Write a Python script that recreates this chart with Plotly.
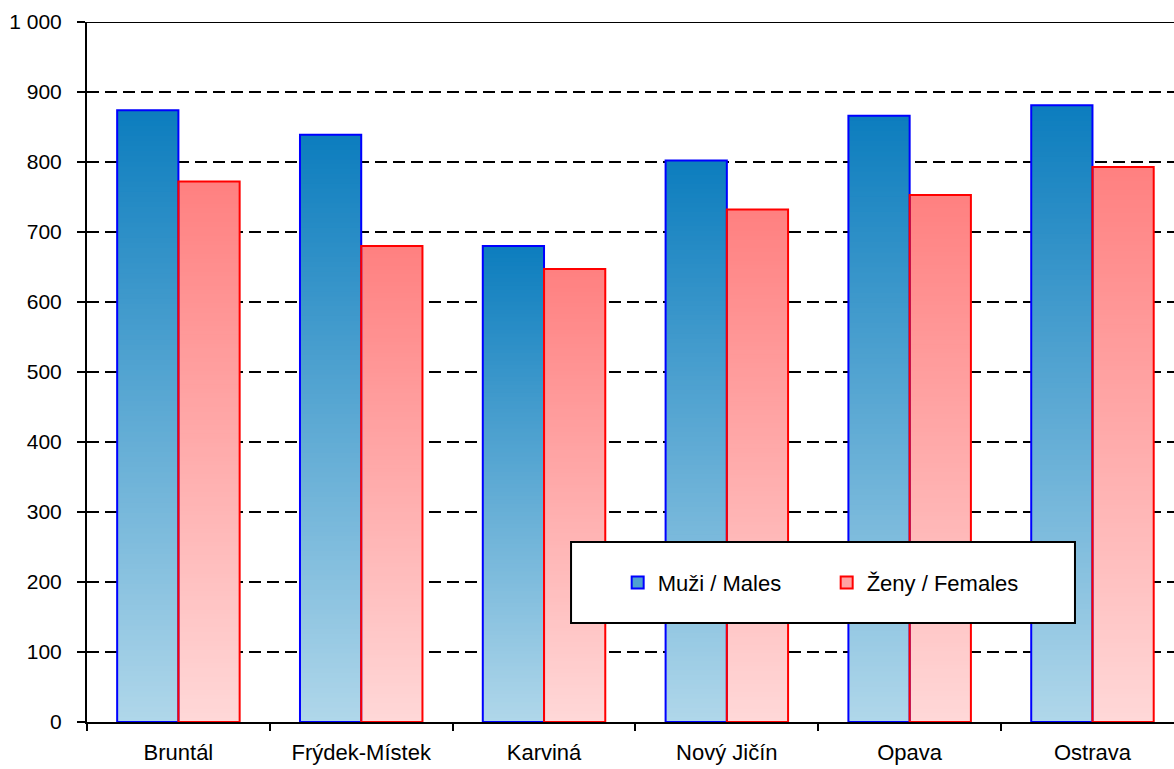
import plotly.graph_objects as go

categories = ["Bruntál", "Frýdek-Místek", "Karviná", "Nový Jičín", "Opava", "Ostrava"]
males = [874, 839, 680, 802, 866, 881]
females = [772, 680, 647, 732, 753, 793]
male_name = "Muži / Males"
female_name = "Ženy / Females"
y_ticks = [0, 100, 200, 300, 400, 500, 600, 700, 800, 900, 1000]

MALE_TOP = (12, 125, 190)
MALE_BOTTOM = (176, 215, 234)
FEMALE_TOP = (255, 128, 128)
FEMALE_BOTTOM = (255, 216, 216)
N = 120


def interp(a, b, t):
    return "rgb(%d,%d,%d)" % tuple(round(a[i] + (b[i] - a[i]) * t) for i in range(3))


def gradient_trace(vals, top, bottom, group):
    # Nested bars from the baseline: tallest first (top colour), shorter ones
    # drawn over them, each one coloured for the height it reaches.
    xs, ys, bases, cols = [], [], [], []
    for k in range(N):
        f = (N - k) / N
        col = interp(bottom, top, f - 0.5 / N)
        for c, v in zip(categories, vals):
            xs.append(c)
            ys.append(v * f)
            bases.append(0)
            cols.append(col)
    return go.Bar(x=xs, y=ys, base=bases, offsetgroup=group,
                  marker=dict(color=cols, line=dict(width=0)),
                  showlegend=False, hoverinfo="skip")


def outline_trace(vals, color, group, name):
    return go.Bar(x=categories, y=vals, offsetgroup=group, name=name,
                  marker=dict(color="rgba(0,0,0,0)", line=dict(color=color, width=2)),
                  showlegend=False)


def legend_trace(name, fill, color, group):
    return go.Bar(x=[None], y=[None], offsetgroup=group, name=name,
                  marker=dict(color=fill, line=dict(color=color, width=2)),
                  showlegend=True)


fig = go.Figure()
fig.add_trace(gradient_trace(males, MALE_TOP, MALE_BOTTOM, "M"))
fig.add_trace(gradient_trace(females, FEMALE_TOP, FEMALE_BOTTOM, "F"))
fig.add_trace(outline_trace(males, "#0000FF", "M", male_name))
fig.add_trace(outline_trace(females, "#FF0000", "F", female_name))
fig.add_trace(legend_trace(male_name, interp(MALE_BOTTOM, MALE_TOP, 0.6), "#0000FF", "M"))
fig.add_trace(legend_trace(female_name, interp(FEMALE_BOTTOM, FEMALE_TOP, 0.6), "#FF0000", "F"))

fig.update_layout(
    width=1174, height=769,
    margin=dict(l=87, r=0, t=22, b=47, autoexpand=False),
    paper_bgcolor="white", plot_bgcolor="white",
    font=dict(family="Liberation Sans, Arial, sans-serif", size=22, color="black"),
    barmode="group", bargap=0.33, bargroupgap=0,
    separators=". ",
    legend=dict(orientation="h", x=0.4882, y=0.199, xanchor="left", yanchor="middle",
                bgcolor="rgba(0,0,0,0)", borderwidth=0,
                entrywidth=164, entrywidthmode="pixels",
                font=dict(size=22, color="black")),
    shapes=[
        dict(type="line", xref="paper", yref="y", x0=0, x1=1, y0=1000, y1=1000,
             line=dict(color="black", width=2), layer="above"),
        dict(type="rect", xref="paper", yref="paper", x0=0.4453, x1=0.9089, y0=0.1414, y1=0.257,
             line=dict(color="black", width=2), fillcolor="white", layer="above"),
    ],
)

fig.update_xaxes(
    type="category", range=[-0.5, 5.446], automargin=False,
    showline=True, linecolor="black", linewidth=2,
    ticks="outside", tickson="boundaries", ticklen=7, tickwidth=2, tickcolor="black",
    showgrid=False, tickfont=dict(size=22), ticklabelstandoff=10,
)
fig.update_yaxes(
    range=[0, 1000], tickvals=y_ticks, tickformat=",d", automargin=False,
    showline=True, linecolor="black", linewidth=2,
    ticks="outside", ticklen=8, tickwidth=2, tickcolor="black",
    showgrid=True, gridcolor="black", gridwidth=2, griddash="12px,6px",
    zeroline=False, tickfont=dict(size=21), ticklabelstandoff=11,
)

# Remove the page's default 8px body margin so the figure sits at the window corner.
fig.write_html("out.html",
               config={"displayModeBar": False},
               post_script="document.body.style.margin='0';document.body.style.overflow='hidden';")
